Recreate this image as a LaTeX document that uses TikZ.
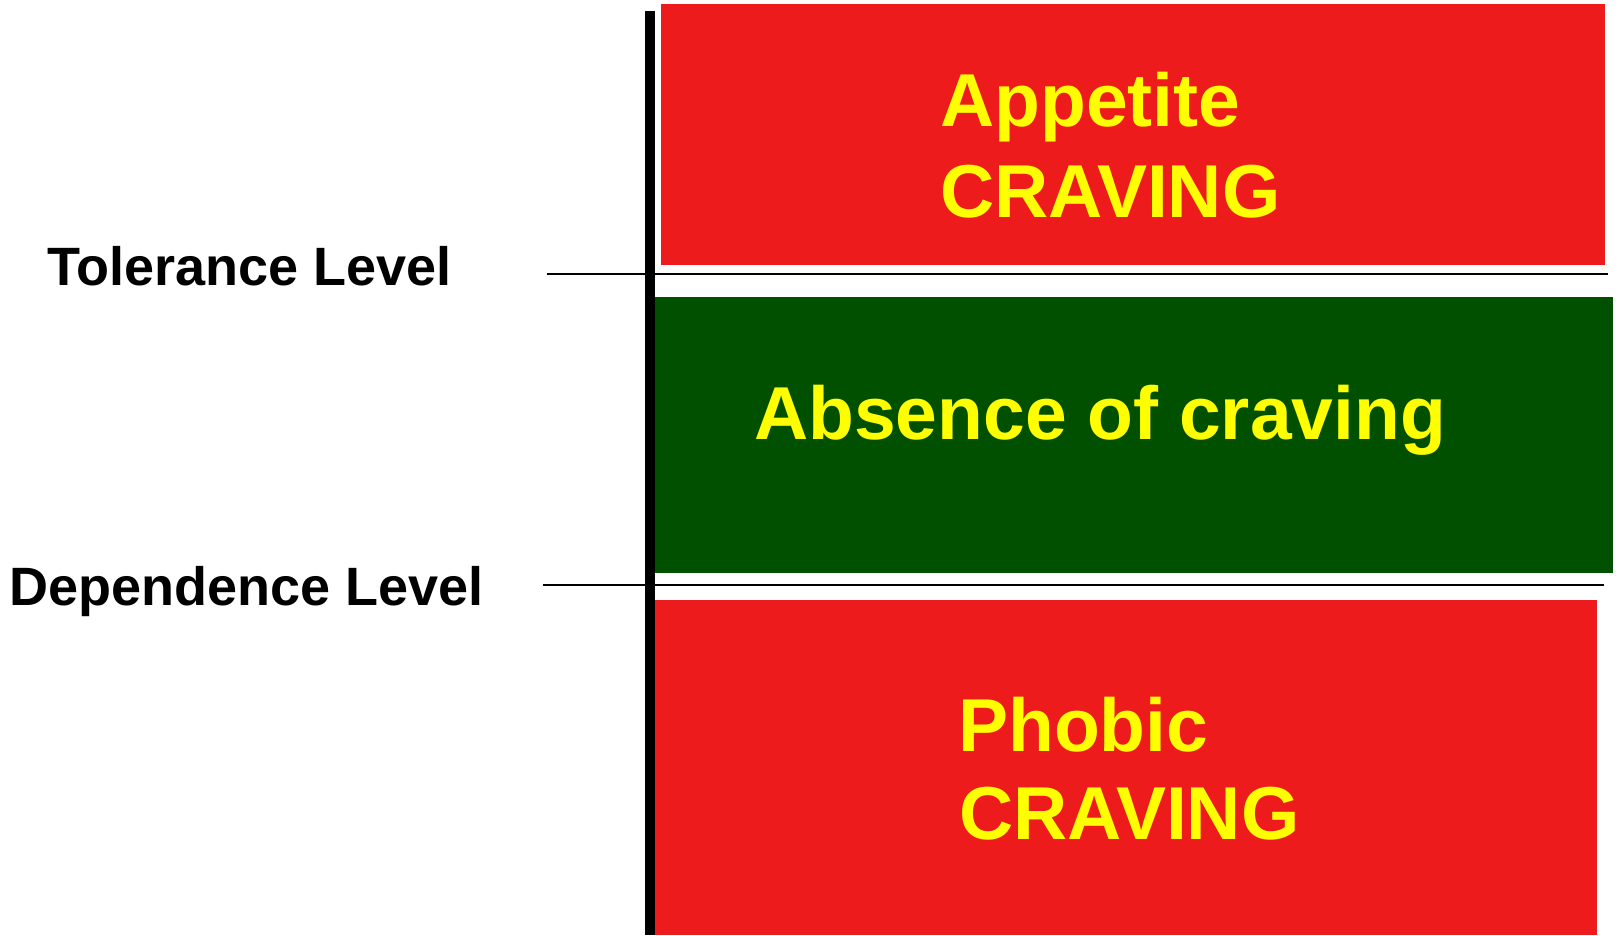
\documentclass[tikz,border=0pt]{standalone}
\usepackage{fontspec}
\setmainfont{Liberation Sans}
\definecolor{cravred}{RGB}{237,27,27}
\definecolor{absgreen}{RGB}{0,80,0}
\definecolor{txtyellow}{RGB}{255,255,0}
\begin{document}
\begin{tikzpicture}[x=1pt,y=-1pt,
  band/.style={draw=none},
  bigtext/.style={inner sep=0pt,anchor=base west,text=txtyellow,font=\fontsize{75}{90}\selectfont\bfseries},
  leveltext/.style={inner sep=0pt,anchor=base west,text=black,font=\fontsize{54}{64}\selectfont\bfseries},
  levelline/.style={draw=black,line width=2pt},
  axis/.style={draw=black,line width=10pt}]
\useasboundingbox (0,0) rectangle (1618,935);
% bands
\fill[cravred] (661,4) rectangle (1605,265);
\fill[absgreen] (655,297) rectangle (1613,573);
\fill[cravred] (655,600) rectangle (1597,935);
% axis
\coordinate (axtop) at (650,11);
\coordinate (axbot) at (650,935);
\draw[axis] (axtop) -- (axbot);
% level lines
\coordinate (tolL) at (547,274);
\coordinate (tolR) at (1608,274);
\coordinate (depL) at (543,585);
\coordinate (depR) at (1604,585);
\draw[levelline] (tolL) -- (tolR);
\draw[levelline] (depL) -- (depR);
% texts
\node[bigtext] (appetite) at (940,126) {Appetite};
\node[bigtext] (craving1) at (940,217) {CRAVING};
\node[bigtext] (absence) at (754,439) {Absence of craving};
\node[bigtext] (phobic) at (958,751) {Phobic};
\node[bigtext] (craving2) at (959,839) {CRAVING};
\node[leveltext] (tolerance) at (47,285) {Tolerance Level};
\node[leveltext] (dependence) at (9,605) {Dependence Level};
\end{tikzpicture}
\end{document}
